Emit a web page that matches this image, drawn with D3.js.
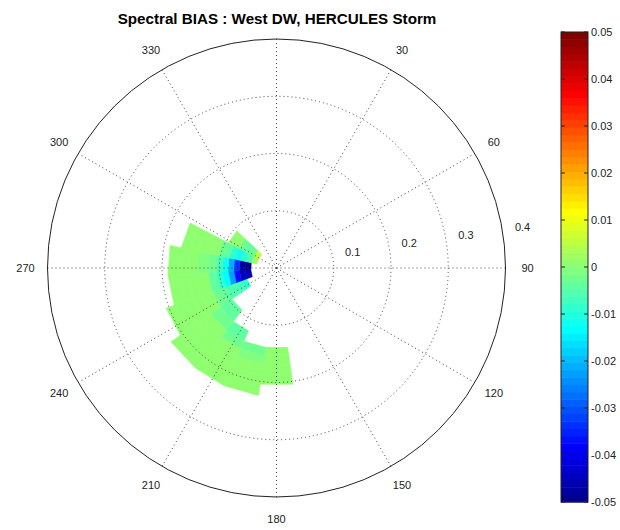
<!DOCTYPE html>
<html><head><meta charset="utf-8">
<script src="https://cdn.jsdelivr.net/npm/d3@7"></script>
<style>body{margin:0;background:#fff}svg{display:block}text{font-family:"Liberation Sans",Arial,sans-serif}</style>
</head><body><svg id="c" width="620" height="530"></svg>
<script>
// ---- data ----
const title = "Spectral BIAS : West DW, HERCULES Storm";
const angleTicks = [30, 60, 90, 120, 150, 180, 210, 240, 270, 300, 330];
const ringTicks = [0.1, 0.2, 0.3, 0.4];
const colorTicks = [-0.05,-0.04,-0.03,-0.02,-0.01,0,0.01,0.02,0.03,0.04,0.05];
const colorTickLabels = ["-0.05","-0.04","-0.03","-0.02","-0.01","0","0.01","0.02","0.03","0.04","0.05"];
// direction bin edges (degrees, clockwise from north)
const dirEdges = [172, 188, 204, 219, 235, 250, 266, 282, 297.5, 313];
// frequency bin edges (radial)
const freqEdges = [0.035,0.045,0.055,0.065,0.075,0.085,0.095,0.105,0.12,0.14,0.155,0.17,0.19,0.205,0.225];
const N = null;
// bias values: one row per direction bin, one column per frequency bin
const biasA = [N,N,N,N,N,N,N,N,N, 0.001,0.001,0.001,0.001,N];
const biasB = [N,N,N,N,N,N,N,N,N, -0.003,-0.001,0.001,0.001,0.001];
const biasC = [N,N,N,N,N,N,N,N,-0.004,-0.003,0.000,0.001,0.001,0.001];
const biasD = [N,N,N,N,N,N,-0.004,-0.004,-0.003,0.000,0.001,0.000,0.001,0.001];
const biasE = [N,N,-0.009,-0.007,-0.006,-0.005,-0.004,-0.002,0.000,0.001,0.001,0.001,0.001,N];
const biasF = [N,-0.046,-0.045,-0.036,-0.022,-0.013,-0.008,-0.004,0.000,0.001,0.001,0.001,N,N];
const biasG = [N,-0.049,-0.047,-0.034,-0.021,-0.012,-0.007,-0.003,-0.001,0.001,0.001,0.001,N,N];
const biasH = [0.003,-0.006,-0.009,-0.011,-0.008,-0.004,-0.002,0.000,0.001,0.001,0.001,N,N,N];
const biasI = [0.006,-0.002,-0.004,-0.003,0.000,0.001,N,N,N,N,N,N,N,N];
const biasRows = [biasA,biasB,biasC,biasD,biasE,biasF,biasG,biasH,biasI];
const cmin = -0.05, cmax = 0.05, nColors = 64;

// ---- drawing ----
const svg = d3.select("#c");
const cx = 276.5, cy = 268, R = 229;
const r = d3.scaleLinear().domain([0, 0.4]).range([0, R]);
const rad = d => d * Math.PI / 180;
const px = (f, a) => [cx + r(f) * Math.sin(rad(a)), cy - r(f) * Math.cos(rad(a))];

function jet(t){
  const c = v => Math.max(0, Math.min(1, v));
  return d3.rgb(255*c(1.5-Math.abs(4*t-3)), 255*c(1.5-Math.abs(4*t-2)), 255*c(1.5-Math.abs(4*t-1)));
}
const jetColors = d3.range(nColors).map(i => jet((i+1)/nColors).formatHex());
const colorIndex = d3.scaleQuantize().domain([cmin, cmax]).range(d3.range(nColors));
const color = v => jetColors[Math.max(0, Math.min(nColors-1, colorIndex(Math.max(cmin, Math.min(cmax, v)))))];

// cells
const cells = [];
biasRows.forEach((row, i) => row.forEach((v, j) => {
  if (v !== null) cells.push({a0: dirEdges[i], a1: dirEdges[i+1], f0: freqEdges[j], f1: freqEdges[j+1], v});
}));
svg.append("g").selectAll("path").data(cells).join("path")
  .attr("d", d => {
    const p = [px(d.f0,d.a0), px(d.f1,d.a0), px(d.f1,d.a1), px(d.f0,d.a1)];
    return "M" + p.map(q => q.join(",")).join("L") + "Z";
  })
  .attr("fill", d => color(d.v))
  .attr("stroke", d => color(d.v))
  .attr("stroke-width", 0.6);

// grid
const grid = svg.append("g");
ringTicks.slice(0, -1).forEach(t => {
  grid.append("circle").attr("cx", cx).attr("cy", cy).attr("r", r(t))
    .attr("fill", "none").attr("stroke", "#444").attr("stroke-width", 1).attr("stroke-dasharray", "1,3");
});
d3.range(0, 360, 30).forEach(a => {
  const [x2, y2] = px(0.4, a);
  grid.append("line").attr("x1", cx).attr("y1", cy).attr("x2", x2).attr("y2", y2)
    .attr("stroke", "#444").attr("stroke-width", 1).attr("stroke-dasharray", "1,3");
});
grid.append("circle").attr("cx", cx).attr("cy", cy).attr("r", r(0.4))
  .attr("fill", "none").attr("stroke", "#222").attr("stroke-width", 1);

// angle labels
angleTicks.forEach(a => {
  const ang = rad(a), Rl = 251;
  svg.append("text").attr("x", cx + Rl*Math.sin(ang)).attr("y", cy - Rl*Math.cos(ang))
    .attr("text-anchor", "middle").attr("dy", "0.35em")
    .attr("font-size", 11).attr("fill", "#222").text(a);
});
// ring labels
ringTicks.forEach(t => {
  const [x, y] = px(t, 81.6);
  svg.append("text").attr("x", x + 19.5).attr("y", y - 7.7)
    .attr("text-anchor", "middle").attr("dy", "0.35em")
    .attr("font-size", 11).attr("fill", "#222").text(t);
});

// title
svg.append("text").attr("x", 277).attr("y", 24).attr("text-anchor", "middle")
  .attr("font-size", 15.2).attr("font-weight", "bold").attr("fill", "#000").text(title);

// colorbar
const cbX = 561, cbW = 27, cbTop = 32, cbBot = 502;
const cy2 = d3.scaleLinear().domain([cmin, cmax]).range([cbBot, cbTop]);
const cb = svg.append("g");
const step = (cmax - cmin) / nColors;
cb.selectAll("rect").data(d3.range(nColors)).join("rect")
  .attr("x", cbX).attr("width", cbW)
  .attr("y", i => cy2(cmin + (i+1)*step)).attr("height", i => cy2(cmin + i*step) - cy2(cmin + (i+1)*step) + 0.5)
  .attr("fill", i => jetColors[i]);
cb.append("rect").attr("x", cbX).attr("y", cbTop).attr("width", cbW).attr("height", cbBot - cbTop)
  .attr("fill", "none").attr("stroke", "#222").attr("stroke-width", 1);
colorTicks.forEach((t, k) => {
  const y = cy2(t);
  cb.append("line").attr("x1", cbX).attr("x2", cbX + 4).attr("y1", y).attr("y2", y).attr("stroke", "#222");
  cb.append("line").attr("x1", cbX + cbW - 4).attr("x2", cbX + cbW).attr("y1", y).attr("y2", y).attr("stroke", "#222");
  cb.append("text").attr("x", cbX + cbW + 3).attr("y", y).attr("dy", "0.35em")
    .attr("font-size", 11).attr("fill", "#222").text(colorTickLabels[k]);
});
</script></body></html>
